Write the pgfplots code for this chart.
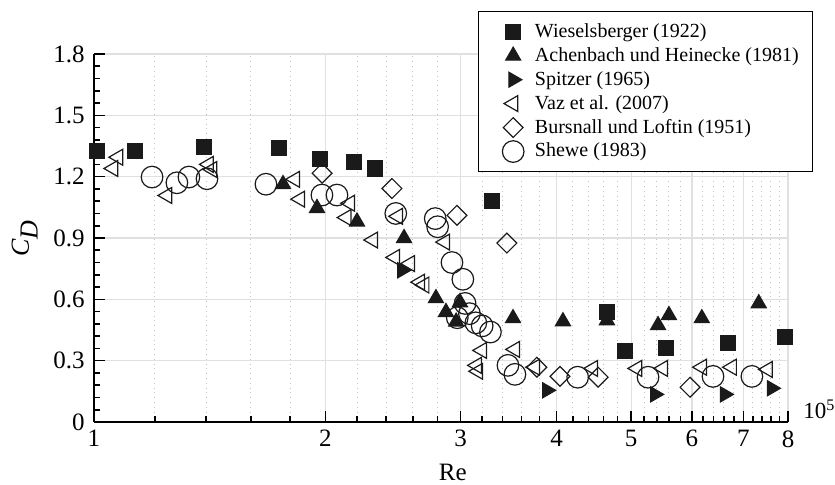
\documentclass[border=0pt]{standalone}
\usepackage{fontspec}
\setmainfont{Liberation Serif}
\usepackage{pgfplots}
\pgfplotsset{compat=1.18}

\definecolor{markblack}{RGB}{26,26,26}
\definecolor{majgrid}{RGB}{224,224,224}
\definecolor{mingrid}{RGB}{190,190,190}

\newcommand\tickfont{\fontsize{12.5}{15}\selectfont}
\newcommand\labfont{\fontsize{12.5}{15}\selectfont}
\newcommand\legfont{\fontsize{10}{12}\selectfont}

\begin{document}
\begin{tikzpicture}
\begin{axis}[
  name=ax,
  scale only axis, width=347pt, height=184pt,
  xmode=log, xmin=1, xmax=8, ymin=0, ymax=1.8,
  clip=false,
  axis x line*=bottom, axis y line*=left,
  axis line style={line width=1pt, black},
  xtick={1,2,3,4,5,6,7,8}, xticklabels={1,2,3,4,5,6,7,8},
  minor xtick={1.2,1.4,1.6,1.8,2.2,2.4,2.6,2.8,3.2,3.4,3.6,3.8,4.2,4.4,4.6,4.8,
    5.2,5.4,5.6,5.8,6.2,6.4,6.6,6.8,7.2,7.4,7.6,7.8},
  ytick={0,0.3,0.6,0.9,1.2,1.5,1.8},
  yticklabels={0,0.3,0.6,0.9,1.2,1.5,1.8},
  minor y tick num=4,
  tick align=inside,
  major tick length=5.5pt, minor tick length=3pt,
  every tick/.style={black, line width=0.8pt},
  xmajorgrids, ymajorgrids, xminorgrids,
  major grid style={majgrid, line width=0.6pt},
  minor grid style={mingrid, dotted, line width=0.5pt},
  /pgf/number format/assume math mode=true,
  tick label style={font=\tickfont, inner sep=0pt},
  xticklabel style={anchor=north, yshift=-4pt},
  yticklabel style={anchor=east, xshift=-4.5pt},
  xlabel={Re},
  ylabel={\textit{C}$_{\textit{D}}$},
  every axis x label/.style={at={(axis description cs:0.517,-0.114)}, anchor=north,
    font=\labfont, inner sep=0pt},
  every axis y label/.style={at={(axis description cs:-0.0807,0.5)}, rotate=90, anchor=south,
    font=\fontsize{13}{15}\selectfont, inner sep=0pt},
  only marks,
  legend image code/.code={\path (0pt,0pt); \draw[mark repeat=2,mark phase=2,#1]
    plot coordinates {(6pt,0pt) (12pt,0pt) (18pt,0pt)};},
  legend style={at={(axis description cs:0.5533,1.1168)}, anchor=north west,
    draw=black, line width=0.6pt, fill=white,
    font=\legfont,
    nodes={inner xsep=2pt, inner ysep=1.75pt},
    cells={anchor=west}, column sep=3.5pt,
    inner xsep=5pt, inner ysep=4.2pt, row sep=0pt},
]
% Wieselsberger (1922)
\addplot[mark=square*, mark size=3.75pt, draw=markblack, fill=markblack, line width=0.6pt]
  coordinates {(1.01,1.325) (1.131,1.325) (1.39,1.345) (1.741,1.34) (1.968,1.285)
    (2.179,1.27) (2.321,1.24) (3.295,1.08) (4.65,0.537) (4.91,0.346) (5.55,0.36)
    (6.68,0.385) (7.93,0.415)};
% Achenbach und Heinecke (1981)
\addplot[mark=triangle*, mark size=4.3pt, draw=markblack, fill=markblack, line width=0.6pt]
  coordinates {(1.762,1.163) (1.951,1.046) (2.199,0.98) (2.532,0.899) (2.786,0.605)
    (2.871,0.537) (2.994,0.585) (2.96,0.49) (3.51,0.507) (4.076,0.492) (4.65,0.497)
    (5.42,0.473) (5.60,0.522) (6.18,0.507) (7.33,0.58)};
% Spitzer (1965)
\addplot[mark=triangle*, mark size=4.3pt, mark options={rotate=-90}, draw=markblack, fill=markblack, line width=0.6pt]
  coordinates {(2.517,0.742) (3.886,0.155) (5.37,0.135) (6.62,0.135) (7.62,0.165)};
% Vaz et al. (2007)
\addplot[mark=triangle, mark size=4.6pt, mark options={rotate=90}, draw=markblack, line width=0.6pt]
  coordinates {(1.075,1.295) (1.059,1.24) (1.245,1.108) (1.41,1.26) (1.425,1.235)
    (1.826,1.187) (1.854,1.09) (2.153,1.07) (2.13,1.0) (2.307,0.89) (2.486,1.006)
    (2.464,0.805) (2.577,0.775) (2.656,0.684) (2.69,0.67) (2.862,0.88) (3.198,0.35)
    (3.149,0.277) (3.16,0.248) (3.53,0.355) (3.748,0.268) (4.46,0.262) (5.09,0.262)
    (5.50,0.262) (6.18,0.268) (6.76,0.268) (7.53,0.257)};
% Bursnall und Loftin (1951)
\addplot[mark=square, mark size=3.5pt, mark options={rotate=45}, draw=markblack, line width=0.6pt]
  coordinates {(1.981,1.217) (2.442,1.142) (2.967,1.011) (3.446,0.875) (3.77,0.268)
    (4.04,0.223) (4.53,0.219) (5.965,0.17)};
% Shewe (1983)
\addplot[mark=o, mark size=5.4pt, draw=markblack, line width=0.6pt]
  coordinates {(1.19,1.198) (1.282,1.17) (1.329,1.198) (1.403,1.19) (1.674,1.163)
    (1.98,1.11) (2.071,1.11) (2.47,1.02) (2.78,0.995) (2.80,0.955) (2.923,0.78)
    (3.02,0.698) (3.04,0.58) (2.97,0.51) (3.08,0.53) (3.14,0.485) (3.2,0.47)
    (3.28,0.44) (3.457,0.277) (3.53,0.233) (4.26,0.219) (5.26,0.219) (6.39,0.223)
    (7.18,0.223)};
\legend{Wieselsberger (1922), Achenbach und Heinecke (1981), Spitzer (1965),
  Vaz et al. (2007), Bursnall und Loftin (1951), Shewe (1983)}
\node[anchor=base west, inner sep=0pt, font=\fontsize{11.5}{13}\selectfont]
  at ([xshift=7.5pt, yshift=1.5pt]rel axis cs:1,0) {10\textsuperscript{5}};
\end{axis}
\pgfresetboundingbox
\path[use as bounding box] ([shift={(-47pt,-31.5pt)}]ax.south west)
  rectangle ([shift={(370.5pt,211pt)}]ax.south west);
\end{tikzpicture}
\end{document}
